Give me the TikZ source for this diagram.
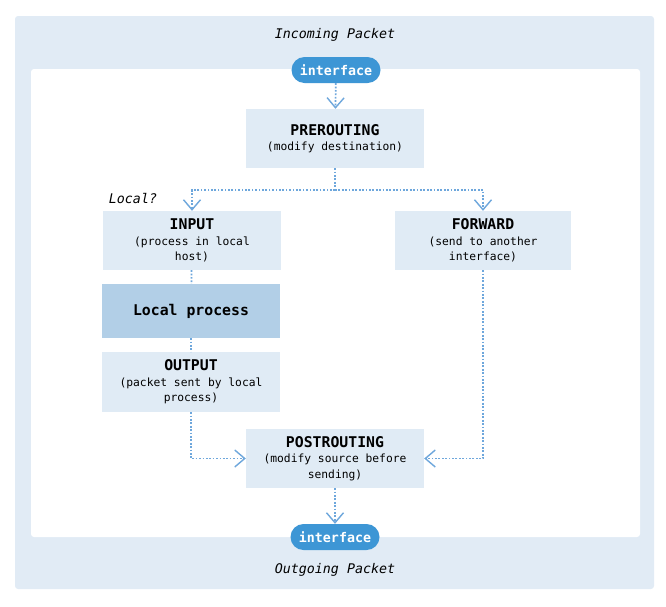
\documentclass[tikz,border=0pt]{standalone}
\usepackage{fontspec}
\setmainfont{DejaVu Sans Mono}
\usepackage{tikz}
\usetikzlibrary{arrows.meta,calc}
\usepackage{xcolor}
\definecolor{paleblue}{RGB}{225,235,245}
\definecolor{boxblue}{RGB}{224,235,245}
\definecolor{procblue}{RGB}{178,207,231}
\definecolor{pillblue}{RGB}{61,150,213}
\definecolor{flowblue}{RGB}{110,167,220}
\newcommand{\stagetitle}[1]{{\fontsize{14.8}{19}\selectfont\bfseries #1}}

\begin{document}
\begin{tikzpicture}[x=1pt, y=-1pt, font=\fontsize{11.3}{15.5}\selectfont,
    stage/.style={fill=boxblue, minimum width=178pt, minimum height=59pt,
      align=center, inner sep=2pt},
    iface/.style={fill=pillblue, text=white, rounded corners=13pt,
      minimum width=89pt, minimum height=26pt,
      font=\fontsize{13.3}{15}\selectfont\bfseries},
    flow/.style={flowblue, line width=1.7pt, dash pattern=on 1.7pt off 1.7pt},
    flowarrow/.style={flow, -{Straight Barb[length=10pt,width=17pt,line width=1.4pt]}}]
        \useasboundingbox (0,0) rectangle (666,606);
        % Outer and inner frames
        \fill[paleblue,rounded corners=3pt] (15,16) rectangle (654,589);
        \fill[white,rounded corners=3pt] (31,69) rectangle (640,537);
        \node[font=\fontsize{13.3}{15}\selectfont\itshape] (incoming) at (335,35) {Incoming Packet};
        \node[font=\fontsize{13.3}{15}\selectfont\itshape] (outgoing) at (335,570) {Outgoing Packet};
        % Interfaces
        \node[iface] (ifin) at (336,70) {interface};
        \node[iface] (ifout) at (335,537) {interface};
        % Chains
        \node[stage] (pre) at (335,138.5) {\stagetitle{PREROUTING}\\(modify destination)};
        \node[stage] (input) at (192,240.5) {\stagetitle{INPUT}\\(process in local\\host)};
        \node[stage,fill=procblue,minimum height=54pt,font=\fontsize{14.8}{18}\selectfont\bfseries]
          (local) at (191,311) {Local process};
        \node[stage,minimum height=60pt] (output) at (191,382) {\stagetitle{OUTPUT}\\(packet sent by local\\process)};
        \node[stage,minimum width=176pt] (forward) at (483,240.5) {\stagetitle{FORWARD}\\(send to another\\interface)};
        \node[stage] (post) at (335,458.5) {\stagetitle{POSTROUTING}\\(modify source before\\sending)};
        \node[font=\fontsize{13.3}{15}\selectfont\itshape] (localq) at (133,198) {Local?};
        % Routing decision
        \coordinate (split) at (335,190);
        \draw[flowarrow] (ifin) -- (pre);
        \draw[flow] (pre) -- (split);
        \foreach \dest in {input, forward}{
          \draw[flowarrow] (split) -| (\dest);
        }
        \draw[flow] (input) -- (local);
        \draw[flow] (local) -- (output);
        % Into postrouting
        \draw[flowarrow] (output) |- (post);
        \draw[flowarrow] (forward) |- (post);
        \draw[flowarrow] (post) -- (ifout);
      \end{tikzpicture}
\end{document}
